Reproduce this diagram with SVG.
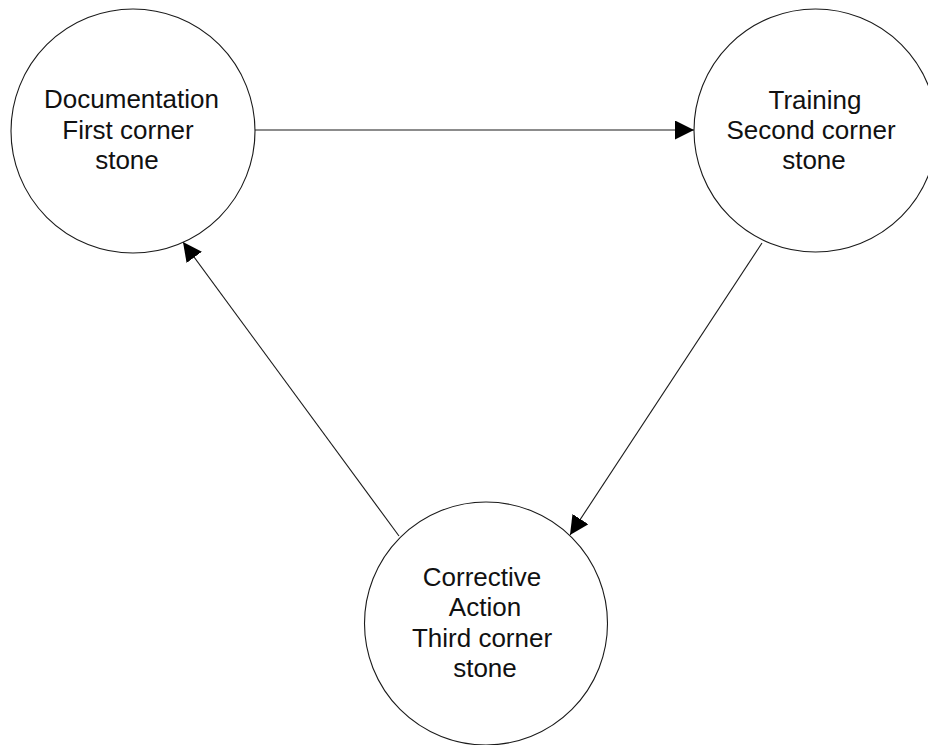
<svg xmlns="http://www.w3.org/2000/svg" width="928" height="745" viewBox="0 0 928 745">
<style>
.node circle{fill:#ffffff;stroke:#1a1a1a;stroke-width:1.1}
.node text{font-family:"Liberation Sans",Arial,sans-serif;font-size:26px;fill:#111111;text-anchor:middle}
.edge{stroke:#1a1a1a;stroke-width:1.1;fill:none;marker-end:url(#arr)}
</style>
<defs>
<marker id="arr" markerUnits="userSpaceOnUse" markerWidth="20" markerHeight="20" refX="19" refY="9.5" orient="auto">
<path d="M0,0 L19,9.5 L0,19 z" fill="#000000"/>
</marker>
</defs>
<rect width="928" height="745" fill="#ffffff"/>
<g id="connectors">
<line class="edge" x1="255" y1="130" x2="694" y2="130"/>
<line class="edge" x1="762" y1="243" x2="570" y2="535"/>
<line class="edge" x1="399" y1="536" x2="183" y2="242"/>
</g>
<g id="documentation" class="node">
<circle cx="133" cy="131" r="122"/>
<text x="131.5" y="108">Documentation</text>
<text x="128" y="138.5">First corner</text>
<text x="127" y="168.5">stone</text>
</g>
<g id="training" class="node">
<circle cx="815.5" cy="130.5" r="121.5"/>
<text x="815" y="108.5">Training</text>
<text x="811" y="138.5">Second corner</text>
<text x="814" y="168.5">stone</text>
</g>
<g id="corrective" class="node">
<circle cx="486" cy="623.5" r="121.5"/>
<text x="482" y="585.5">Corrective</text>
<text x="485" y="616">Action</text>
<text x="482" y="646.5">Third corner</text>
<text x="485" y="677">stone</text>
</g>
</svg>
